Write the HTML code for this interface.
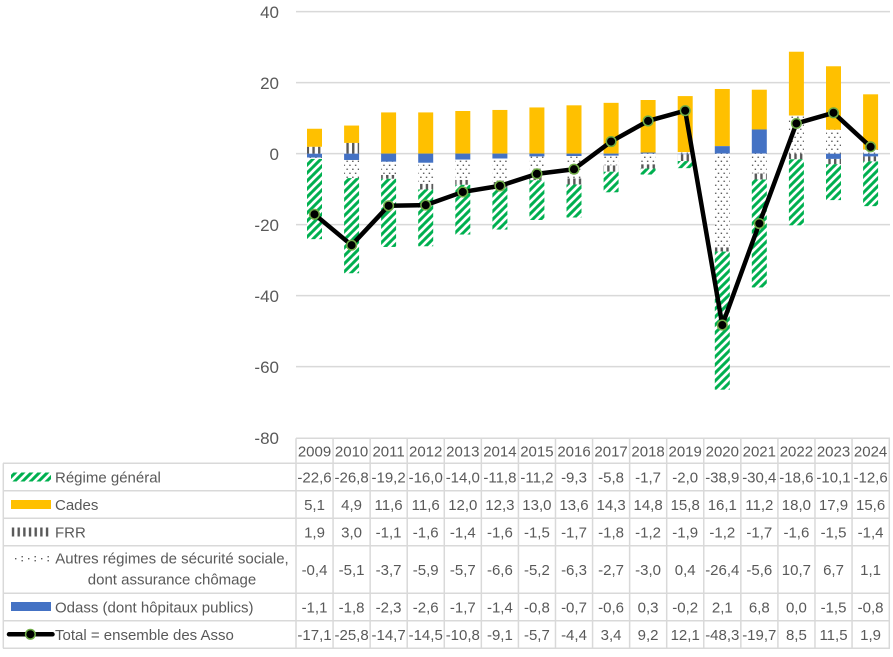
<!DOCTYPE html>
<html><head><meta charset="utf-8"><style>
html,body{margin:0;padding:0;background:#fff;}
svg{display:block;font-family:"Liberation Sans",sans-serif;}
</style></head><body>
<svg width="893" height="657" viewBox="0 0 893 657" xmlns="http://www.w3.org/2000/svg">
<defs>
<pattern id="pg" width="8" height="8" patternUnits="userSpaceOnUse"><rect width="8" height="8" fill="#fff"/><path d="M0,8 L8,0 M-1,1 L1,-1 M7,9 L9,7" stroke="#00B050" stroke-width="3"/></pattern>
<pattern id="pf" width="5.67" height="8" patternUnits="userSpaceOnUse"><rect width="5.67" height="8" fill="#fff"/><rect x="0.5" y="0" width="2.4" height="8" fill="#595959"/></pattern>
<pattern id="pa" width="5.67" height="8" patternUnits="userSpaceOnUse"><rect width="5.67" height="8" fill="#fff"/><rect x="0.6" y="0.6" width="1.4" height="1.4" fill="#595959"/><rect x="3.4" y="4.6" width="1.4" height="1.4" fill="#595959"/></pattern>
</defs>
<rect width="893" height="657" fill="#fff"/>
<g stroke="#D9D9D9" stroke-width="1.5">
<line x1="296" y1="11.6" x2="890" y2="11.6"/>
<line x1="296" y1="82.6" x2="890" y2="82.6"/>
<line x1="296" y1="153.6" x2="890" y2="153.6"/>
<line x1="296" y1="224.6" x2="890" y2="224.6"/>
<line x1="296" y1="295.6" x2="890" y2="295.6"/>
<line x1="296" y1="366.6" x2="890" y2="366.6"/>
</g>
<g font-size="17" fill="#595959" text-anchor="end">
<text x="279" y="18">40</text>
<text x="279" y="89">20</text>
<text x="279" y="160">0</text>
<text x="279" y="231">-20</text>
<text x="279" y="302">-40</text>
<text x="279" y="373">-60</text>
<text x="279" y="444">-80</text>
</g>
<g fill="#FFC000">
<rect x="307.0" y="128.75" width="15" height="18.1"/>
<rect x="344.1" y="125.55" width="15" height="17.4"/>
<rect x="381.1" y="112.42" width="15" height="41.18"/>
<rect x="418.2" y="112.42" width="15" height="41.18"/>
<rect x="455.3" y="111.0" width="15" height="42.6"/>
<rect x="492.4" y="109.94" width="15" height="43.66"/>
<rect x="529.4" y="107.45" width="15" height="46.15"/>
<rect x="566.5" y="105.32" width="15" height="48.28"/>
<rect x="603.6" y="102.84" width="15" height="50.77"/>
<rect x="640.6" y="100.0" width="15" height="52.54"/>
<rect x="677.7" y="96.09" width="15" height="56.09"/>
<rect x="714.8" y="88.99" width="15" height="57.16"/>
<rect x="751.8" y="89.7" width="15" height="39.76"/>
<rect x="788.9" y="51.72" width="15" height="63.9"/>
<rect x="826.0" y="66.27" width="15" height="63.55"/>
<rect x="863.1" y="94.32" width="15" height="55.38"/>
</g>
<g fill="#4472C4">
<rect x="307.0" y="153.6" width="15" height="3.9"/>
<rect x="344.1" y="153.6" width="15" height="6.39"/>
<rect x="381.1" y="153.6" width="15" height="8.17"/>
<rect x="418.2" y="153.6" width="15" height="9.23"/>
<rect x="455.3" y="153.6" width="15" height="6.04"/>
<rect x="492.4" y="153.6" width="15" height="4.97"/>
<rect x="529.4" y="153.6" width="15" height="2.84"/>
<rect x="566.5" y="153.6" width="15" height="2.49"/>
<rect x="603.6" y="153.6" width="15" height="2.13"/>
<rect x="640.6" y="152.54" width="15" height="1.07"/>
<rect x="677.7" y="153.6" width="15" height="0.71"/>
<rect x="714.8" y="146.15" width="15" height="7.46"/>
<rect x="751.8" y="129.46" width="15" height="24.14"/>
<rect x="826.0" y="153.6" width="15" height="5.33"/>
<rect x="863.1" y="153.6" width="15" height="2.84"/>
</g>
<g fill="url(#pf)">
<rect x="307.0" y="146.86" width="15" height="6.75"/>
<rect x="344.1" y="142.95" width="15" height="10.65"/>
<rect x="381.1" y="174.9" width="15" height="3.9"/>
<rect x="418.2" y="183.78" width="15" height="5.68"/>
<rect x="455.3" y="179.87" width="15" height="4.97"/>
<rect x="492.4" y="182.0" width="15" height="5.68"/>
<rect x="529.4" y="174.9" width="15" height="5.33"/>
<rect x="566.5" y="178.45" width="15" height="6.04"/>
<rect x="603.6" y="165.32" width="15" height="6.39"/>
<rect x="640.6" y="164.25" width="15" height="4.26"/>
<rect x="677.7" y="154.31" width="15" height="6.75"/>
<rect x="714.8" y="247.32" width="15" height="4.26"/>
<rect x="751.8" y="173.48" width="15" height="6.04"/>
<rect x="788.9" y="153.6" width="15" height="5.68"/>
<rect x="826.0" y="158.93" width="15" height="5.33"/>
<rect x="863.1" y="156.44" width="15" height="4.97"/>
</g>
<g fill="url(#pa)">
<rect x="307.0" y="157.5" width="15" height="1.42"/>
<rect x="344.1" y="159.99" width="15" height="18.1"/>
<rect x="381.1" y="161.77" width="15" height="13.14"/>
<rect x="418.2" y="162.83" width="15" height="20.95"/>
<rect x="455.3" y="159.64" width="15" height="20.24"/>
<rect x="492.4" y="158.57" width="15" height="23.43"/>
<rect x="529.4" y="156.44" width="15" height="18.46"/>
<rect x="566.5" y="156.09" width="15" height="22.37"/>
<rect x="603.6" y="155.73" width="15" height="9.59"/>
<rect x="640.6" y="153.6" width="15" height="10.65"/>
<rect x="677.7" y="152.18" width="15" height="1.42"/>
<rect x="714.8" y="153.6" width="15" height="93.72"/>
<rect x="751.8" y="153.6" width="15" height="19.88"/>
<rect x="788.9" y="115.62" width="15" height="37.99"/>
<rect x="826.0" y="129.82" width="15" height="23.79"/>
<rect x="863.1" y="149.7" width="15" height="3.91"/>
</g>
<g fill="url(#pg)">
<rect x="307.0" y="158.93" width="15" height="80.23"/>
<rect x="344.1" y="178.1" width="15" height="95.14"/>
<rect x="381.1" y="178.8" width="15" height="68.16"/>
<rect x="418.2" y="189.46" width="15" height="56.8"/>
<rect x="455.3" y="184.84" width="15" height="49.7"/>
<rect x="492.4" y="187.68" width="15" height="41.89"/>
<rect x="529.4" y="180.23" width="15" height="39.76"/>
<rect x="566.5" y="184.49" width="15" height="33.02"/>
<rect x="603.6" y="171.71" width="15" height="20.59"/>
<rect x="640.6" y="168.51" width="15" height="6.04"/>
<rect x="677.7" y="161.06" width="15" height="7.1"/>
<rect x="714.8" y="251.58" width="15" height="138.1"/>
<rect x="751.8" y="179.52" width="15" height="107.92"/>
<rect x="788.9" y="159.28" width="15" height="66.03"/>
<rect x="826.0" y="164.25" width="15" height="35.86"/>
<rect x="863.1" y="161.41" width="15" height="44.73"/>
</g>
<polyline fill="none" stroke="#000" stroke-width="4.5" stroke-linejoin="round" points="314.5,214.3 351.6,245.19 388.6,205.79 425.7,205.08 462.8,191.94 499.9,185.9 536.9,173.84 574.0,169.22 611.1,141.53 648.1,120.94 685.2,110.65 722.3,325.07 759.3,223.54 796.4,123.43 833.5,112.78 870.6,146.86"/>
<g fill="#000" stroke="#70AD47" stroke-width="1.5">
<circle cx="314.5" cy="214.3" r="4.8"/>
<circle cx="351.6" cy="245.19" r="4.8"/>
<circle cx="388.6" cy="205.79" r="4.8"/>
<circle cx="425.7" cy="205.08" r="4.8"/>
<circle cx="462.8" cy="191.94" r="4.8"/>
<circle cx="499.9" cy="185.9" r="4.8"/>
<circle cx="536.9" cy="173.84" r="4.8"/>
<circle cx="574.0" cy="169.22" r="4.8"/>
<circle cx="611.1" cy="141.53" r="4.8"/>
<circle cx="648.1" cy="120.94" r="4.8"/>
<circle cx="685.2" cy="110.65" r="4.8"/>
<circle cx="722.3" cy="325.07" r="4.8"/>
<circle cx="759.3" cy="223.54" r="4.8"/>
<circle cx="796.4" cy="123.43" r="4.8"/>
<circle cx="833.5" cy="112.78" r="4.8"/>
<circle cx="870.6" cy="146.86" r="4.8"/>
</g>
<g stroke="#D9D9D9" stroke-width="1.5" fill="none">
<line x1="296" y1="438.3" x2="890" y2="438.3"/>
<line x1="3" y1="463.3" x2="890" y2="463.3"/>
<line x1="3" y1="490.7" x2="890" y2="490.7"/>
<line x1="3" y1="518.3" x2="890" y2="518.3"/>
<line x1="3" y1="545.7" x2="890" y2="545.7"/>
<line x1="3" y1="593.3" x2="890" y2="593.3"/>
<line x1="3" y1="620.7" x2="890" y2="620.7"/>
<line x1="3" y1="648.3" x2="890" y2="648.3"/>
<line x1="3.3" y1="463.3" x2="3.3" y2="648.3"/>
<line x1="296" y1="438.3" x2="296" y2="648.3"/>
<line x1="333.07" y1="438.3" x2="333.07" y2="648.3"/>
<line x1="370.14" y1="438.3" x2="370.14" y2="648.3"/>
<line x1="407.21" y1="438.3" x2="407.21" y2="648.3"/>
<line x1="444.28" y1="438.3" x2="444.28" y2="648.3"/>
<line x1="481.35" y1="438.3" x2="481.35" y2="648.3"/>
<line x1="518.42" y1="438.3" x2="518.42" y2="648.3"/>
<line x1="555.49" y1="438.3" x2="555.49" y2="648.3"/>
<line x1="592.56" y1="438.3" x2="592.56" y2="648.3"/>
<line x1="629.63" y1="438.3" x2="629.63" y2="648.3"/>
<line x1="666.7" y1="438.3" x2="666.7" y2="648.3"/>
<line x1="703.77" y1="438.3" x2="703.77" y2="648.3"/>
<line x1="740.84" y1="438.3" x2="740.84" y2="648.3"/>
<line x1="777.91" y1="438.3" x2="777.91" y2="648.3"/>
<line x1="814.98" y1="438.3" x2="814.98" y2="648.3"/>
<line x1="852.05" y1="438.3" x2="852.05" y2="648.3"/>
<line x1="889.3" y1="438.3" x2="889.3" y2="648.3"/>
</g>
<g font-size="15" fill="#595959" text-anchor="middle">
<g transform="translate(0,456.3)">
<text x="314.5">2009</text><text x="351.6">2010</text><text x="388.6">2011</text><text x="425.7">2012</text><text x="462.8">2013</text><text x="499.9">2014</text><text x="536.9">2015</text><text x="574.0">2016</text><text x="611.1">2017</text><text x="648.1">2018</text><text x="685.2">2019</text><text x="722.3">2020</text><text x="759.3">2021</text><text x="796.4">2022</text><text x="833.5">2023</text><text x="870.6">2024</text>
</g>
<g transform="translate(0,482.6)">
<text x="314.5">-22,6</text><text x="351.6">-26,8</text><text x="388.6">-19,2</text><text x="425.7">-16,0</text><text x="462.8">-14,0</text><text x="499.9">-11,8</text><text x="536.9">-11,2</text><text x="574.0">-9,3</text><text x="611.1">-5,8</text><text x="648.1">-1,7</text><text x="685.2">-2,0</text><text x="722.3">-38,9</text><text x="759.3">-30,4</text><text x="796.4">-18,6</text><text x="833.5">-10,1</text><text x="870.6">-12,6</text>
</g>
<g transform="translate(0,510.1)">
<text x="314.5">5,1</text><text x="351.6">4,9</text><text x="388.6">11,6</text><text x="425.7">11,6</text><text x="462.8">12,0</text><text x="499.9">12,3</text><text x="536.9">13,0</text><text x="574.0">13,6</text><text x="611.1">14,3</text><text x="648.1">14,8</text><text x="685.2">15,8</text><text x="722.3">16,1</text><text x="759.3">11,2</text><text x="796.4">18,0</text><text x="833.5">17,9</text><text x="870.6">15,6</text>
</g>
<g transform="translate(0,537.6)">
<text x="314.5">1,9</text><text x="351.6">3,0</text><text x="388.6">-1,1</text><text x="425.7">-1,6</text><text x="462.8">-1,4</text><text x="499.9">-1,6</text><text x="536.9">-1,5</text><text x="574.0">-1,7</text><text x="611.1">-1,8</text><text x="648.1">-1,2</text><text x="685.2">-1,9</text><text x="722.3">-1,2</text><text x="759.3">-1,7</text><text x="796.4">-1,6</text><text x="833.5">-1,5</text><text x="870.6">-1,4</text>
</g>
<g transform="translate(0,575.1)">
<text x="314.5">-0,4</text><text x="351.6">-5,1</text><text x="388.6">-3,7</text><text x="425.7">-5,9</text><text x="462.8">-5,7</text><text x="499.9">-6,6</text><text x="536.9">-5,2</text><text x="574.0">-6,3</text><text x="611.1">-2,7</text><text x="648.1">-3,0</text><text x="685.2">0,4</text><text x="722.3">-26,4</text><text x="759.3">-5,6</text><text x="796.4">10,7</text><text x="833.5">6,7</text><text x="870.6">1,1</text>
</g>
<g transform="translate(0,612.6)">
<text x="314.5">-1,1</text><text x="351.6">-1,8</text><text x="388.6">-2,3</text><text x="425.7">-2,6</text><text x="462.8">-1,7</text><text x="499.9">-1,4</text><text x="536.9">-0,8</text><text x="574.0">-0,7</text><text x="611.1">-0,6</text><text x="648.1">0,3</text><text x="685.2">-0,2</text><text x="722.3">2,1</text><text x="759.3">6,8</text><text x="796.4">0,0</text><text x="833.5">-1,5</text><text x="870.6">-0,8</text>
</g>
<g transform="translate(0,640.1)">
<text x="314.5">-17,1</text><text x="351.6">-25,8</text><text x="388.6">-14,7</text><text x="425.7">-14,5</text><text x="462.8">-10,8</text><text x="499.9">-9,1</text><text x="536.9">-5,7</text><text x="574.0">-4,4</text><text x="611.1">3,4</text><text x="648.1">9,2</text><text x="685.2">12,1</text><text x="722.3">-48,3</text><text x="759.3">-19,7</text><text x="796.4">8,5</text><text x="833.5">11,5</text><text x="870.6">1,9</text>
</g>
</g>
<rect x="11" y="472.5" width="40" height="9" fill="url(#pg)"/>
<rect x="11" y="500" width="40" height="9" fill="#FFC000"/>
<rect x="11" y="527.5" width="40" height="9" fill="url(#pf)"/>
<g fill="#595959">
<rect x="15" y="558" width="1.4" height="1.4"/>
<rect x="21.5" y="556" width="1.4" height="1.4"/><rect x="21.5" y="560" width="1.4" height="1.4"/>
<rect x="28" y="558" width="1.4" height="1.4"/>
<rect x="34.5" y="556" width="1.4" height="1.4"/><rect x="34.5" y="560" width="1.4" height="1.4"/>
<rect x="41" y="558" width="1.4" height="1.4"/>
<rect x="47.5" y="556" width="1.4" height="1.4"/><rect x="47.5" y="560" width="1.4" height="1.4"/>
</g>
<rect x="11" y="602" width="40" height="9" fill="#4472C4"/>
<line x1="9" y1="634.3" x2="52.5" y2="634.3" stroke="#000" stroke-width="4.5" stroke-linecap="round"/>
<circle cx="30.4" cy="634.3" r="4.8" fill="#000" stroke="#70AD47" stroke-width="1.5"/>
<g font-size="15" fill="#595959">
<text x="55" y="482.6">Régime général</text>
<text x="55" y="510.1">Cades</text>
<text x="55" y="537.6">FRR</text>
<text x="172" y="563.5" text-anchor="middle">Autres régimes de sécurité sociale,</text>
<text x="172" y="584.5" text-anchor="middle">dont assurance chômage</text>
<text x="55" y="612.6">Odass (dont hôpitaux publics)</text>
<text x="55" y="640.1">Total = ensemble des Asso</text>
</g>
</svg>
</body></html>
